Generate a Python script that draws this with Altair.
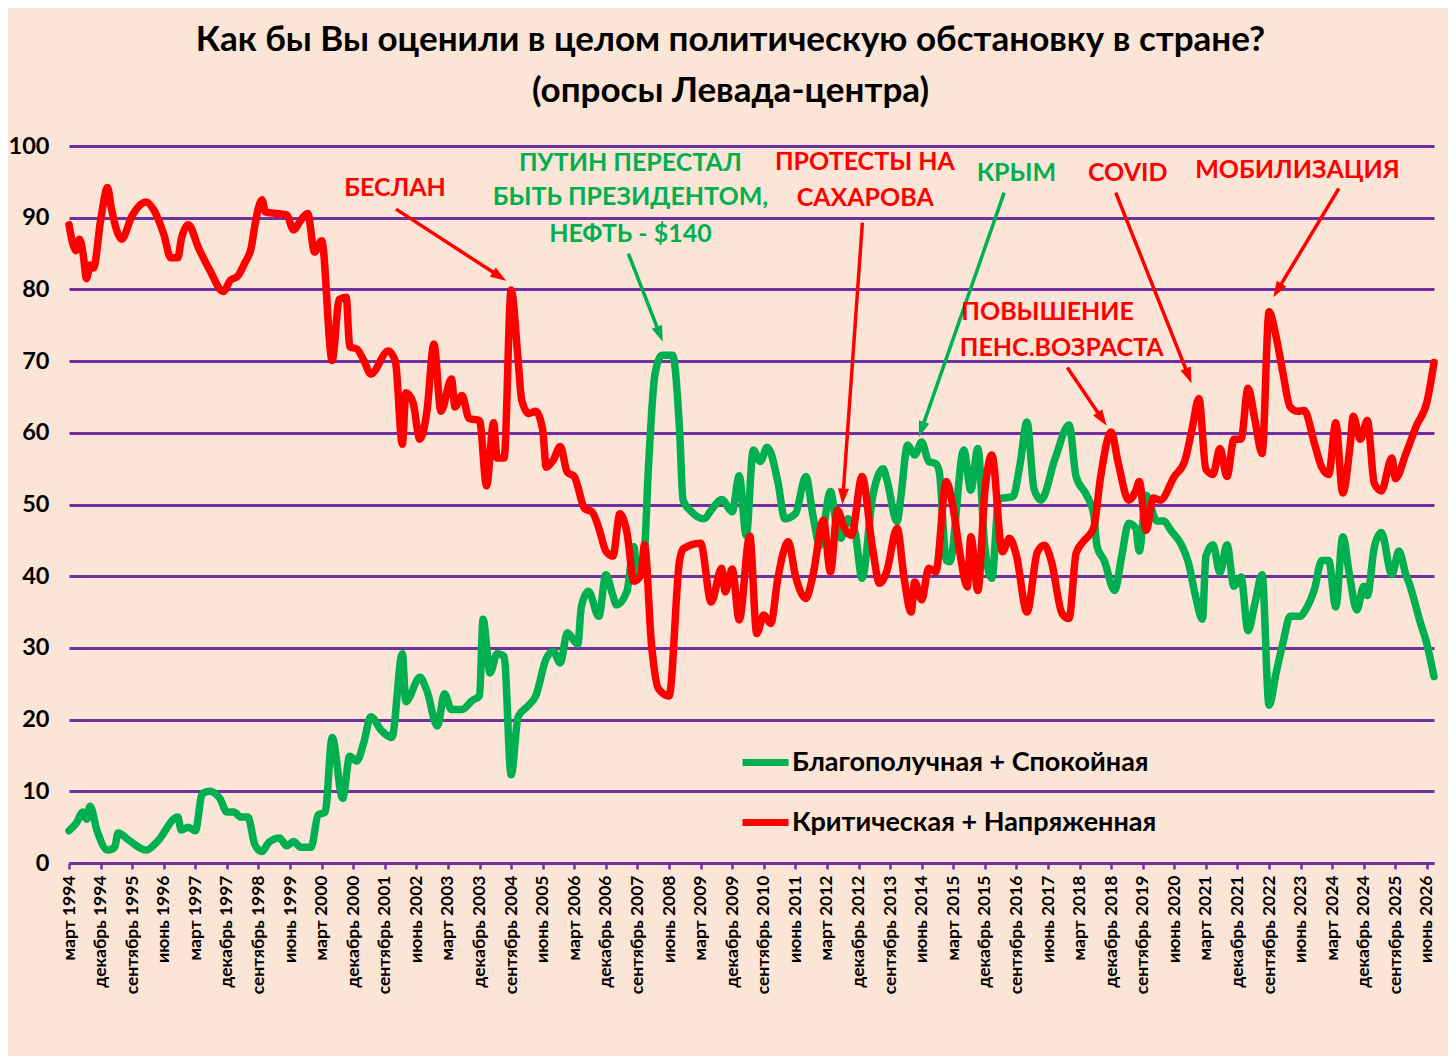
import json
import math
import altair as alt
import pandas as pd

FONT = "Lato, 'Open Sans', 'Noto Sans', sans-serif"
GREEN = "#00B050"
RED = "#FF0000"
PURPLE = "#7030A0"
BG = "#FBE5D6"

W, H = 1365, 717
X_MAX = 389  # months since March 1994 at the right edge of the plot

SERIES_GREEN = "Благополучная + Спокойная"
SERIES_RED = "Критическая + Напряженная"

TITLE = ["Как бы Вы оценили в целом политическую обстановку в стране?",
         "(опросы Левада-центра)"]

# x-axis labels, one every 9 months starting March 1994
tick_labels = [
    "март 1994", "декабрь 1994", "сентябрь 1995", "июнь 1996", "март 1997",
    "декабрь 1997", "сентябрь 1998", "июнь 1999", "март 2000", "декабрь 2000",
    "сентябрь 2001", "июнь 2002", "март 2003", "декабрь 2003", "сентябрь 2004",
    "июнь 2005", "март 2006", "декабрь 2006", "сентябрь 2007", "июнь 2008",
    "март 2009", "декабрь 2009", "сентябрь 2010", "июнь 2011", "март 2012",
    "декабрь 2012", "сентябрь 2013", "июнь 2014", "март 2015", "декабрь 2015",
    "сентябрь 2016", "июнь 2017", "март 2018", "декабрь 2018", "сентябрь 2019",
    "июнь 2020", "март 2021", "декабрь 2021", "сентябрь 2022", "июнь 2023",
    "март 2024", "декабрь 2024", "сентябрь 2025", "июнь 2026",
]
tick_step = 9

# months since March 1994
green_month = [
    0, 2, 4, 5, 6, 8, 11, 13, 14, 17, 22, 25, 31, 32, 34, 36, 38, 40, 43, 45,
    47, 49, 51, 53, 55, 57, 60, 62, 64, 66, 69, 71, 73, 75, 78, 80, 82, 84, 86, 89,
    92, 95, 96, 100, 102, 105, 107, 109, 112, 115, 117, 118, 120, 122, 124, 126, 128, 131, 133, 136,
    138, 140, 142, 145, 146, 148, 151, 153, 155, 156, 159, 161, 162, 164, 165, 167, 169, 172, 174, 175,
    177, 181, 183, 186, 189, 191, 193, 195, 197, 199, 202, 204, 207, 210, 212, 214, 217, 219, 220, 222,
    224, 226, 229, 232, 233, 236, 237, 239, 241, 243, 245, 247, 248, 250, 251, 255, 257, 259, 261, 263,
    265, 269, 271, 273, 275, 277, 281, 285, 287, 290, 292, 293, 295, 298, 300, 302, 304, 305, 307, 310,
    312, 314, 317, 319, 321, 323, 324, 326, 328, 330, 332, 334, 336, 338, 340, 342, 344, 346, 348, 351,
    352, 355, 357, 359, 361, 363, 365, 367, 369, 370, 372, 374, 377, 379, 381, 382, 385, 387, 389,
]
green_value = [
    4.5, 5.5, 7.1, 6.1, 7.9, 4.5, 1.8, 2.2, 4.2, 3.2, 1.8, 2.9, 6.4, 4.6, 5.0, 4.5, 9.7, 10.0, 9.0, 7.1,
    7.1, 6.4, 6.4, 2.5, 1.6, 2.9, 3.5, 2.4, 3.0, 2.2, 2.2, 6.7, 7.1, 17.5, 9.0, 14.9, 14.2, 16.8, 20.4, 18.5,
    17.5, 29.2, 22.5, 25.9, 24.0, 19.1, 23.6, 21.4, 21.4, 22.7, 23.3, 34.0, 26.5, 29.2, 28.8, 12.3, 20.4, 22.0, 23.3, 28.5,
    29.5, 27.9, 32.1, 30.5, 35.7, 37.9, 34.4, 40.2, 37.3, 36.0, 37.9, 44.1, 39.6, 43.5, 53.9, 68.2, 70.8, 70.8, 60.4, 50.6,
    49.2, 48.0, 49.2, 50.7, 49.0, 54.0, 45.7, 57.6, 56.0, 58.0, 53.2, 48.0, 48.7, 53.9, 48.5, 44.3, 51.8, 46.2, 45.3, 48.0,
    46.2, 39.7, 51.0, 55.0, 53.6, 47.6, 50.8, 58.3, 56.9, 58.7, 56.0, 55.7, 54.6, 42.2, 42.0, 57.6, 52.0, 57.8, 44.0, 39.7,
    50.8, 51.1, 55.5, 61.5, 52.2, 50.6, 56.4, 61.1, 53.9, 51.3, 48.7, 44.1, 42.2, 38.0, 42.8, 47.4, 46.7, 43.5, 51.3, 47.7,
    47.7, 46.4, 44.4, 41.9, 37.3, 34.0, 42.8, 44.4, 40.5, 44.4, 38.6, 39.9, 32.4, 36.3, 40.2, 22.0, 26.5, 30.8, 34.4, 34.4,
    35.0, 38.3, 42.2, 42.2, 35.7, 45.5, 39.9, 35.3, 38.6, 37.3, 44.1, 46.1, 40.2, 43.5, 40.2, 38.9, 33.7, 30.5, 26.0,
]

red_month = [
    0, 2, 3, 4, 5, 6, 7, 9, 11, 12, 14, 15, 18, 22, 24, 27, 29, 31, 32, 34,
    37, 40, 44, 46, 48, 50, 52, 53, 55, 56, 62, 64, 66, 68, 70, 72, 75, 77, 79, 80,
    82, 84, 86, 91, 93, 95, 96, 98, 100, 102, 104, 106, 109, 110, 112, 114, 117, 119, 121, 122,
    124, 126, 128, 129, 131, 133, 135, 136, 138, 140, 142, 144, 147, 149, 151, 153, 155, 157, 159, 161,
    163, 164, 166, 168, 171, 174, 175, 180, 183, 186, 187, 189, 191, 194, 196, 198, 200, 202, 205, 207,
    210, 212, 215, 217, 219, 221, 223, 226, 229, 231, 233, 236, 238, 240, 241, 243, 245, 247, 250, 252,
    254, 256, 257, 259, 261, 263, 266, 268, 270, 273, 276, 278, 280, 283, 285, 287, 289, 292, 294, 297,
    299, 302, 304, 305, 307, 309, 311, 315, 318, 320, 322, 324, 326, 328, 330, 332, 334, 336, 338, 340,
    342, 344, 346, 348, 350, 352, 355, 357, 359, 361, 363, 365, 366, 368, 370, 372, 374, 377, 378, 381,
    384, 387, 389,
]
red_value = [
    89.0, 85.4, 87.0, 85.0, 81.5, 83.4, 83.0, 89.6, 94.2, 91.5, 87.7, 87.0, 90.3, 92.2, 91.2, 87.7, 84.4, 84.4, 87.0, 89.0,
    85.7, 82.8, 79.7, 81.3, 81.8, 83.6, 86.0, 89.0, 92.5, 90.8, 90.4, 88.3, 89.6, 90.6, 85.2, 86.8, 70.1, 78.6, 78.9, 72.0,
    71.7, 70.1, 68.2, 71.4, 70.0, 58.4, 65.6, 64.3, 59.1, 63.0, 72.4, 63.0, 67.5, 63.6, 65.2, 62.0, 61.7, 52.6, 61.4, 56.5,
    56.5, 79.9, 70.1, 64.6, 62.7, 63.0, 60.4, 55.2, 56.2, 58.1, 54.5, 53.9, 49.4, 49.0, 46.7, 43.5, 42.8, 48.7, 46.1, 39.3,
    40.2, 44.4, 30.5, 24.3, 23.3, 42.2, 43.8, 44.6, 36.4, 41.1, 37.8, 41.0, 33.9, 45.6, 32.0, 34.6, 33.4, 39.7, 44.8, 40.1,
    36.9, 40.1, 47.8, 40.6, 49.2, 46.7, 45.7, 53.9, 43.9, 39.0, 40.6, 46.7, 39.7, 35.0, 39.2, 36.7, 41.1, 40.6, 53.2, 49.4,
    42.9, 38.5, 45.5, 38.0, 51.8, 56.9, 43.4, 45.3, 42.9, 35.0, 43.4, 44.3, 42.0, 34.8, 34.1, 43.2, 44.8, 46.7, 53.9, 60.1,
    55.8, 50.6, 51.9, 53.2, 46.4, 50.9, 50.6, 53.9, 56.1, 60.4, 64.8, 54.9, 54.2, 57.8, 53.9, 59.1, 59.1, 66.2, 61.7, 57.1,
    76.9, 73.4, 68.2, 63.6, 63.0, 63.1, 58.4, 55.2, 54.2, 61.4, 51.6, 57.8, 62.3, 59.1, 61.7, 52.9, 51.9, 56.5, 53.6, 57.1,
    61.0, 64.3, 69.8,
]

# annotations (position in months since March 1994 / percent)
ann_text = ["БЕСЛАН", "ПУТИН ПЕРЕСТАЛ", "БЫТЬ ПРЕЗИДЕНТОМ,", "НЕФТЬ - $140",
            "ПРОТЕСТЫ НА", "САХАРОВА", "КРЫМ", "COVID", "МОБИЛИЗАЦИЯ",
            "ПОВЫШЕНИЕ", "ПЕНС.ВОЗРАСТА"]
ann_month = [92.9, 160.0, 160.0, 160.0, 226.8, 226.9, 270.0, 301.7, 350.1, 278.9, 282.9]
ann_value = [94.2, 97.6, 92.9, 87.7, 97.7, 92.7, 96.2, 96.3, 96.7, 76.9, 71.8]
ann_color = [RED, GREEN, GREEN, GREEN, RED, RED, GREEN, RED, RED, RED, RED]

# arrows: start -> tip
arrow_color = [RED, GREEN, RED, GREEN, RED, RED, RED]
arrow_m1 = [93.2, 159.4, 226.1, 266.5, 284.5, 298.3, 361.9]
arrow_v1 = [91.2, 85.0, 89.3, 93.5, 69.1, 93.5, 94.1]
arrow_m2 = [124.6, 169.2, 220.4, 242.2, 295.7, 319.9, 343.2]
arrow_v2 = [81.2, 72.7, 50.0, 59.4, 61.0, 66.9, 78.9]

# ---------------------------------------------------------------------------
lines = pd.concat([
    pd.DataFrame({"m": green_month, "v": green_value, "series": SERIES_GREEN}),
    pd.DataFrame({"m": red_month, "v": red_value, "series": SERIES_RED}),
])

ppm = W / X_MAX   # pixels per month
ppu = H / 100.0   # pixels per percent
HEAD = 10.0       # px from symbol centre to the arrow tip
rows = []
for c, m1, v1, m2, v2 in zip(arrow_color, arrow_m1, arrow_v1, arrow_m2, arrow_v2):
    dx = (m2 - m1) * ppm
    dy = -(v2 - v1) * ppu  # screen y grows downwards
    ln = math.hypot(dx, dy)
    ux, uy = dx / ln, dy / ln
    ang = math.degrees(math.atan2(ux, -uy)) % 360
    mc = m2 - HEAD * ux / ppm
    vc = v2 + HEAD * uy / ppu
    rows.append({"c": c, "m": m1, "v": v1, "mc": mc, "vc": vc, "ang": ang})
arrows = pd.DataFrame(rows)
anns = pd.DataFrame({"t": ann_text, "m": ann_month, "v": ann_value, "c": ann_color})

x_scale = alt.Scale(domain=[0, X_MAX], nice=False, zero=False)
y_scale = alt.Scale(domain=[0, 100], nice=False, zero=False)

label_expr = json.dumps(tick_labels, ensure_ascii=False) + f"[round(datum.value / {tick_step})]"

x_axis = alt.Axis(
    values=list(range(0, tick_step * len(tick_labels), tick_step)),
    labelExpr=label_expr, labelAngle=270, labelOverlap=False, labelFlush=False,
    labelFont=FONT, labelFontSize=17.5, labelFontWeight="bold", labelColor="black",
    labelPadding=6, labelBound=False, grid=False, domain=True, domainColor=PURPLE,
    domainWidth=3, ticks=True, tickColor=PURPLE, tickWidth=2.5, tickSize=6, title=None,
)
y_axis = alt.Axis(
    values=list(range(0, 101, 10)), grid=True, gridColor=PURPLE, gridWidth=3,
    domain=False, ticks=False, labelFont=FONT, labelFontSize=23.5, labelOverlap=False,
    labelFontWeight="bold", labelColor="black", labelPadding=20, title=None,
)

X = alt.X("m:Q", scale=x_scale, axis=x_axis)
Y = alt.Y("v:Q", scale=y_scale, axis=y_axis)

color = alt.Color(
    "series:N",
    scale=alt.Scale(domain=[SERIES_GREEN, SERIES_RED], range=[GREEN, RED]),
    legend=alt.Legend(
        orient="none", legendX=670, legendY=590, title=None, direction="vertical",
        symbolType="stroke", symbolSize=2116, symbolStrokeWidth=7,
        labelFont=FONT, labelFontSize=27, labelFontWeight="bold", labelColor="black",
        labelLimit=700, labelOffset=0, rowPadding=19, padding=0,
    ),
)

base = alt.Chart(lines)
line_kw = dict(strokeWidth=7.5, interpolate="monotone", strokeCap="round", strokeJoin="round")
green_line = base.transform_filter(alt.datum.series == SERIES_GREEN).mark_line(
    **line_kw).encode(x=X, y=Y, color=color)
red_line = base.transform_filter(alt.datum.series == SERIES_RED).mark_line(
    **line_kw).encode(x=X, y=Y, color=color)

arrow_lines = alt.Chart(arrows).mark_rule(strokeWidth=3.5).encode(
    x=X, y=Y, x2="mc:Q", y2="vc:Q", color=alt.Color("c:N", scale=None),
)
arrow_heads = alt.Chart(arrows).mark_point(
    shape="M0,-1L0.55,0.6L-0.55,0.6Z", filled=True, size=400, opacity=1
).encode(
    x=alt.X("mc:Q", scale=x_scale, axis=x_axis), y=alt.Y("vc:Q", scale=y_scale, axis=y_axis),
    angle=alt.Angle("ang:Q", scale=None), color=alt.Color("c:N", scale=None),
)
texts = alt.Chart(anns).mark_text(
    font=FONT, fontSize=25, fontWeight="bold", align="center", baseline="middle"
).encode(x=X, y=Y, text="t:N", color=alt.Color("c:N", scale=None))

chart = alt.layer(green_line, red_line, arrow_lines, arrow_heads, texts).properties(
    width=W, height=H,
    title=alt.Title(TITLE, font=FONT, fontSize=35, fontWeight="bold", color="black",
                    anchor="middle", lineHeight=51, offset=25.5, dx=-21),
    padding={"left": 0, "top": 14, "right": 10, "bottom": 62},
).configure(background=BG).configure_view(stroke=None)

chart.save("out.html", embed_options={"renderer": "svg", "actions": False})
